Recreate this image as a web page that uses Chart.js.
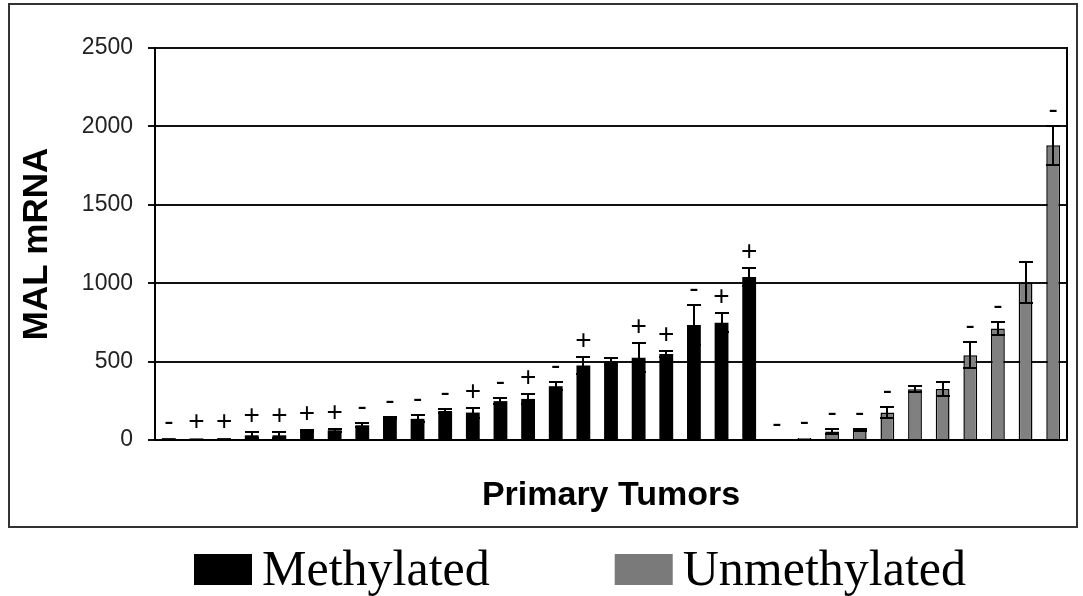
<!DOCTYPE html>
<html>
<head>
<meta charset="utf-8">
<title>MAL mRNA in primary tumors</title>
<script src="https://cdn.jsdelivr.net/npm/chart.js@4/dist/chart.umd.min.js"></script>
<style>
  html, body { margin: 0; padding: 0; background: #fff; overflow: hidden; }
  canvas { display: block; }
</style>
</head>
<body>
<canvas id="chart" width="1083" height="596"></canvas>
<script>
// Tumor samples, ordered by expression within each group
const tumors = ['T1', 'T2', 'T3', 'T4', 'T5', 'T6', 'T7', 'T8', 'T9', 'T10', 'T11',
  'T12', 'T13', 'T14', 'T15', 'T16', 'T17', 'T18', 'T19', 'T20', 'T21', 'T22',
  'T23', 'T24', 'T25', 'T26', 'T27', 'T28', 'T29', 'T30', 'T31', 'T32', 'T33'];

// MAL mRNA levels (mean) and error for methylated tumors
const methylated = [12, 10, 12, 30, 30, 55, 62, 94, 140, 135, 185, 175, 248, 262, 343, 475, 500, 525, 548, 733, 748, 1040];
const methylatedErr = [0, 0, 0, 20, 18, 6, 10, 12, 5, 22, 10, 32, 18, 32, 25, 57, 20, 94, 20, 127, 59, 60];
const methylatedSigns = ['-', '+', '+', '+', '+', '+', '+', '-', '-', '-', '-', '+', '-', '+', '-', '+', '', '+', '+', '-', '+', '+'];

// MAL mRNA levels (mean) and error for unmethylated tumors
const unmethylated = [0, 12, 55, 62, 176, 324, 326, 541, 711, 1002, 1879];
const unmethylatedErr = [0, 0, 16, 6, 37, 21, 45, 81, 42, 131, 123];
const unmethylatedSigns = ['-', '-', '-', '-', '-', '', '', '-', '-', '', '-'];

// Y axis ticks
const yTicks = [0, 500, 1000, 1500, 2000, 2500];

const SANS = "'Liberation Sans', Arial, Helvetica, sans-serif";
const SERIF = "'Liberation Serif', 'Times New Roman', Times, serif";

const blanks = n => Array(n).fill(null);
const blankText = n => Array(n).fill('');

// Outer frame around the plot and axis titles
const framePlugin = {
  id: 'frame',
  beforeDraw(chart) {
    const ctx = chart.ctx;
    ctx.save();
    ctx.fillStyle = '#fff';
    ctx.fillRect(0, 0, chart.width, chart.height);
    ctx.strokeStyle = '#333';
    ctx.lineWidth = 2;
    ctx.strokeRect(9, 4, 1068, 523);
    ctx.restore();
  }
};

// Error bars (mean ± err) drawn on top of each bar
const errorBarPlugin = {
  id: 'errorBars',
  afterDatasetsDraw(chart) {
    const ctx = chart.ctx;
    const y = chart.scales.y;
    ctx.save();
    ctx.strokeStyle = '#000';
    ctx.lineWidth = 2;
    chart.data.datasets.forEach((ds, i) => {
      const meta = chart.getDatasetMeta(i);
      meta.data.forEach((bar, j) => {
        const v = ds.data[j];
        const e = ds.errors[j];
        if (v == null || !e) return;
        const x = Math.round(bar.x);
        const yTop = Math.round(y.getPixelForValue(v + e));
        const yBot = Math.round(y.getPixelForValue(Math.max(0, v - e)));
        const half = 7;
        ctx.beginPath();
        ctx.moveTo(x, yTop);
        ctx.lineTo(x, yBot);
        ctx.moveTo(x - half, yTop);
        ctx.lineTo(x + half, yTop);
        ctx.moveTo(x - half, yBot);
        ctx.lineTo(x + half, yBot);
        ctx.stroke();
      });
    });
    ctx.restore();
  }
};

// +/- markers above each bar
const signPlugin = {
  id: 'signs',
  afterDatasetsDraw(chart) {
    const ctx = chart.ctx;
    const y = chart.scales.y;
    ctx.save();
    ctx.fillStyle = '#000';
    ctx.font = '28px ' + SANS;
    ctx.textAlign = 'center';
    ctx.textBaseline = 'alphabetic';
    chart.data.datasets.forEach((ds, i) => {
      const meta = chart.getDatasetMeta(i);
      meta.data.forEach((bar, j) => {
        const v = ds.data[j];
        const s = ds.signs[j];
        if (v == null || !s) return;
        const top = y.getPixelForValue(v + (ds.errors[j] || 0));
        ctx.fillText(s, bar.x, top - 8);
      });
    });
    ctx.restore();
  }
};

// Legend row below the framed chart
const legendRowPlugin = {
  id: 'legendRow',
  afterDraw(chart, args, opts) {
    const ctx = chart.ctx;
    ctx.save();
    ctx.font = opts.fontSize + 'px ' + SERIF;
    ctx.textBaseline = 'alphabetic';
    ctx.textAlign = 'left';
    let x = opts.left;
    chart.data.datasets.forEach(ds => {
      ctx.fillStyle = ds.legendColor;
      ctx.fillRect(x, opts.boxTop, opts.boxWidth, opts.boxHeight);
      x += opts.boxWidth + opts.textGap;
      ctx.fillStyle = '#000';
      ctx.fillText(ds.label, x, opts.baseline);
      x += ctx.measureText(ds.label).width + opts.itemGap;
    });
    ctx.restore();
  }
};

new Chart(document.getElementById('chart'), {
  type: 'bar',
  data: {
    labels: tumors,
    datasets: [
      {
        label: 'Methylated',
        data: [...methylated, ...blanks(unmethylated.length)],
        errors: [...methylatedErr, ...blanks(unmethylated.length)],
        signs: [...methylatedSigns, ...blankText(unmethylated.length)],
        backgroundColor: '#000',
        legendColor: '#000',
        borderWidth: 0,
        grouped: false,
        barPercentage: 0.5,
        categoryPercentage: 1
      },
      {
        label: 'Unmethylated',
        data: [...blanks(methylated.length), ...unmethylated],
        errors: [...blanks(methylated.length), ...unmethylatedErr],
        signs: [...blankText(methylated.length), ...unmethylatedSigns],
        backgroundColor: '#808080',
        legendColor: '#7a7a7a',
        borderColor: '#000',
        borderWidth: 1.5,
        grouped: false,
        barPercentage: 0.5,
        categoryPercentage: 1
      }
    ]
  },
  options: {
    responsive: false,
    devicePixelRatio: 1,
    animation: false,
    layout: { padding: { left: 12, right: 16, top: 48, bottom: 80 } },
    plugins: {
      legend: { display: false },
      tooltip: { enabled: false },
      legendRow: {
        left: 194, boxTop: 554, boxWidth: 58, boxHeight: 31,
        textGap: 10, itemGap: 125, baseline: 585, fontSize: 50
      }
    },
    scales: {
      x: {
        type: 'category',
        grid: { display: false, drawTicks: false },
        border: { display: true, color: '#000', width: 2 },
        ticks: { display: false },
        title: {
          display: true,
          text: 'Primary Tumors',
          color: '#000',
          font: { family: SANS, size: 34, weight: 'bold' },
          padding: 0
        },
        afterFit(scale) { scale.height = 76; }
      },
      y: {
        min: 0,
        max: 2500,
        afterBuildTicks(scale) { scale.ticks = yTicks.map(v => ({ value: v })); },
        ticks: {
          padding: 15,
          color: '#222',
          font: { family: SANS, size: 23 },
          callback: value => String(value)
        },
        grid: { color: '#111', lineWidth: 2, tickLength: 7, drawTicks: true },
        border: { display: true, color: '#000', width: 2 },
        title: {
          display: true,
          text: 'MAL mRNA',
          color: '#000',
          font: { family: SANS, size: 35, weight: 'bold' },
          padding: { top: 4, bottom: 0 }
        },
        afterFit(scale) { scale.width = 143; }
      },
      yRight: {
        position: 'right',
        ticks: { display: false },
        grid: { display: false, drawTicks: false },
        border: { display: true, color: '#000', width: 2 }
      }
    }
  },
  plugins: [framePlugin, errorBarPlugin, signPlugin, legendRowPlugin]
});
</script>
</body>
</html>
